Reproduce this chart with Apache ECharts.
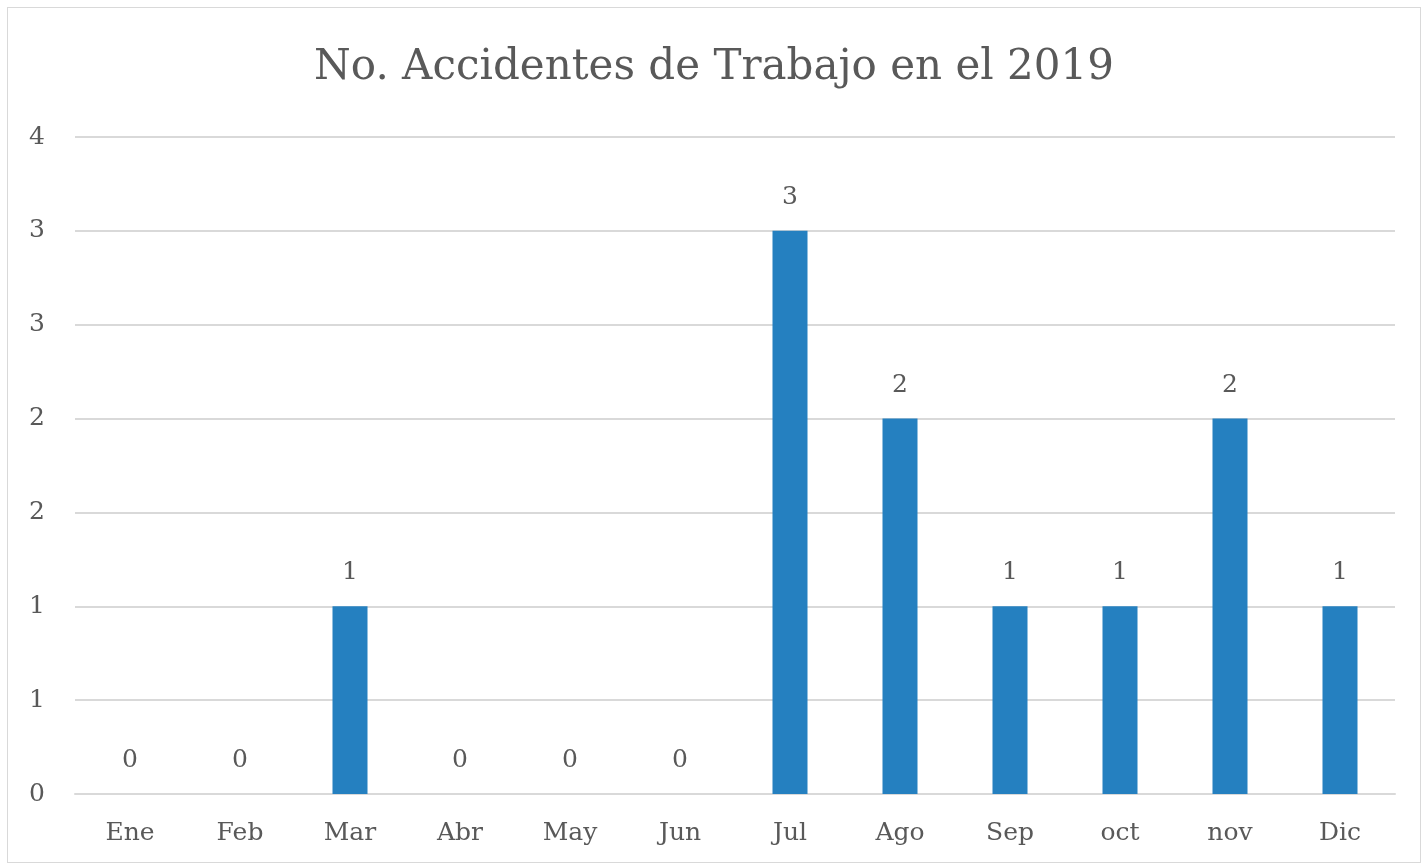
<!DOCTYPE html>
<html><head><meta charset="utf-8">
<script src="https://cdn.jsdelivr.net/npm/echarts@6/dist/echarts.min.js"></script>
<style>html,body{margin:0;padding:0;background:#fff}#c{width:1428px;height:866px}
#frame{position:absolute;left:7px;top:7px;width:1414px;height:856px;border:1px solid #d9d9d9;box-sizing:border-box;pointer-events:none}</style>
</head><body><div id="c"></div><div id="frame"></div>
<script>
const titleText = 'No. Accidentes de Trabajo en el 2019';
const categories = ['Ene','Feb','Mar','Abr','May','Jun','Jul','Ago','Sep','oct','nov','Dic'];
const accidents = [0,0,1,0,0,0,3,2,1,1,2,1];
const yTickLabels = ['0','1','1','2','2','3','3','4'];
const yStep = 0.5;

const FONT = '"DejaVu Serif", serif';
const TXT = '#595959';
const chart = echarts.init(document.getElementById('c'));
chart.setOption({
  animation:false,
  title:{text:titleText,left:'center',top:42,textStyle:{fontFamily:FONT,fontSize:42,fontWeight:'normal',color:TXT}},
  grid:{left:75,right:33,top:137,bottom:72,containLabel:false},
  xAxis:{type:'category',data:categories,axisTick:{show:false},
    axisLine:{lineStyle:{color:'#d9d9d9',width:2}},
    axisLabel:{fontFamily:FONT,fontSize:25,color:TXT,margin:27}},
  yAxis:{type:'value',min:0,max:yStep*(yTickLabels.length-1),interval:yStep,
    axisLine:{show:false},axisTick:{show:false},
    splitLine:{lineStyle:{color:'#d9d9d9',width:2}},
    axisLabel:{fontFamily:FONT,fontSize:25,color:TXT,margin:30,
      formatter:v=>yTickLabels[Math.round(v/yStep)]}},
  series:[{type:'bar',data:accidents,barWidth:35,itemStyle:{color:'#2580c0'},
    label:{show:true,position:'top',distance:21,fontFamily:FONT,fontSize:25,color:TXT}}]
});
</script></body></html>
